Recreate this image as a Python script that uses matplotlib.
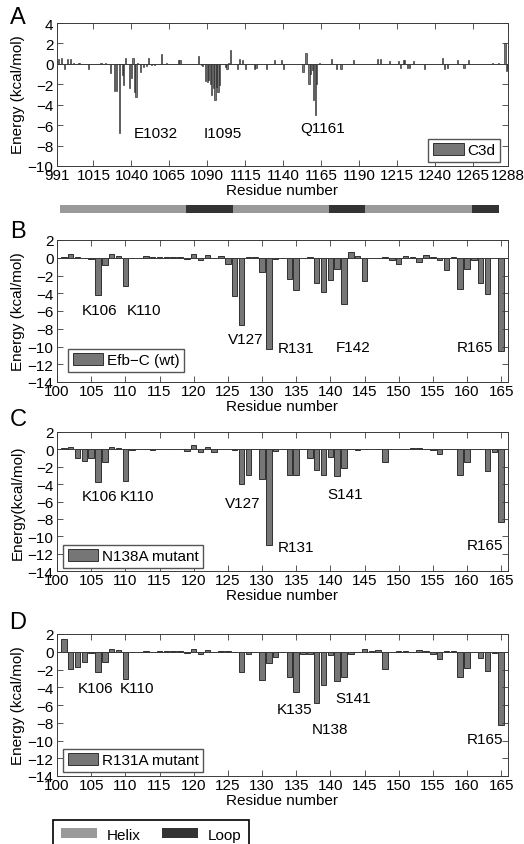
import numpy as np
import matplotlib
matplotlib.use('Agg')
import matplotlib.pyplot as plt
from matplotlib.patches import Patch

plt.rcParams['font.family'] = ['Liberation Sans', 'DejaVu Sans']
plt.rcParams['font.size'] = 11

# --- C3d per-residue decomposition (residues with a visible contribution) ---
c3d_res = [992, 994, 996, 998, 1000, 1002, 1005, 1006, 1012, 1020, 1023,
           1026, 1029, 1030, 1032, 1034, 1035, 1036, 1039, 1040, 1041, 1042,
           1043, 1044, 1046, 1048, 1050, 1051, 1053, 1055, 1060, 1063, 1071,
           1072, 1084, 1086, 1087, 1089, 1090, 1091, 1092, 1093, 1094, 1095,
           1096, 1097, 1098, 1102, 1103, 1104, 1105, 1110, 1111, 1113, 1115,
           1121, 1122, 1129, 1134, 1139, 1140, 1153, 1155, 1157, 1158, 1159,
           1160, 1161, 1162, 1164, 1172, 1175, 1178, 1186, 1202, 1204, 1210,
           1216, 1217, 1219, 1220, 1222, 1223, 1226, 1233, 1245, 1246, 1248,
           1255, 1259, 1262, 1278, 1282, 1286, 1287, 1288]
c3d_val = [0.5, 0.55, -0.5, 0.45, 0.45, 0.05, 0.05, 0.05, -0.5, 0.05, 0.05,
           -0.9, -2.7, -2.7, -6.8, -1.1, -2.1, 0.6, -2.4, -1.4, 0.6, -2.8,
           -3.2, 0.1, -0.8, -0.3, -0.2, 0.6, -0.1, -0.1, 1.0, 0.05, 0.4,
           0.4, 0.8, -0.1, -0.2, -1.7, -1.8, -1.6, -2.0, -3.0, -2.4, -3.5,
           -2.3, -2.8, -2.1, -0.3, -0.5, 0.1, 1.4, -0.5, 0.5, 0.4, -0.5,
           -0.5, -0.4, -0.5, 0.4, 0.4, -0.5, -0.8, 1.1, -2.0, -1.0, -0.6,
           -3.5, -5.0, -2.0, 0.1, 0.5, -0.5, -0.5, 0.4, 0.5, 0.5, 0.3,
           0.3, -0.4, 0.35, 0.35, -0.4, -0.4, 0.3, -0.5, 0.6, -0.5, -0.4,
           0.4, -0.4, 0.4, 0.1, 0.1, 2.0, -0.7, -0.5]
c3d_ticks = [991, 1015, 1040, 1065, 1090, 1115, 1140, 1165, 1190, 1215, 1240, 1265, 1288]

# secondary structure of C3d
helix_spans = [(993, 1076), (1107, 1170), (1194, 1264)]
loop_spans = [(1076, 1107), (1170, 1194), (1264, 1282)]

# --- Efb-C residues 101-165 ---
efb_res = list(range(101, 166))
efb_wt = [0.1, 0.4, 0.1, -0.05, -0.1, -4.15, -0.8, 0.4, 0.2, -3.2,
          -0.05, 0.0, 0.2, 0.05, 0.1, 0.1, 0.1, 0.1, -0.1, 0.4,
          -0.3, 0.3, -0.05, 0.15, -0.7, -4.3, -7.6, 0.1, 0.1, -1.6,
          -10.3, -0.1, 0.0, -2.4, -3.6, 0.0, 0.1, -2.8, -3.9, -2.5,
          -1.3, -5.2, 0.7, 0.2, -2.6, 0.0, 0.0, 0.1, -0.3, -0.7,
          0.15, 0.1, -0.5, 0.3, 0.1, -0.2, -1.4, 0.1, -3.5, -1.3,
          -0.2, -2.8, -4.1, 0.0, -10.5]
n138a = [0.2, 0.3, -1.0, -1.3, -1.0, -3.8, -1.5, 0.3, 0.2, -3.6,
         -0.05, 0.0, 0.05, -0.05, 0.0, 0.0, 0.0, 0.05, -0.2, 0.5,
         -0.3, 0.25, -0.3, 0.0, 0.0, -0.05, -4.0, -3.0, 0.0, -3.4,
         -11.0, -0.2, 0.0, -2.9, -2.9, 0.0, -1.0, -2.4, -2.9, -0.9,
         -3.1, -2.1, 0.1, -0.05, 0.1, 0.0, 0.05, -1.5, 0.0, 0.05,
         0.05, 0.2, 0.15, 0.0, -0.05, -0.5, 0.05, 0.05, -2.9, -1.5,
         0.0, 0.0, -2.5, -0.3, -8.4]
r131a = [1.4, -1.9, -1.7, -1.1, -0.1, -2.3, -1.1, 0.3, 0.15, -3.1,
         0.0, 0.0, 0.05, 0.0, 0.05, 0.05, 0.05, 0.05, -0.1, 0.3,
         -0.2, 0.2, -0.05, 0.05, 0.05, 0.0, -2.3, -0.3, 0.0, -3.2,
         -1.3, -0.6, 0.0, -2.8, -4.5, -0.2, -0.2, -5.8, -3.7, -0.4,
         -3.3, -2.8, -0.2, 0.0, 0.3, 0.1, 0.15, -1.9, 0.0, 0.1,
         0.1, 0.0, 0.2, 0.1, -0.3, -0.8, 0.1, 0.1, -2.8, -1.8,
         0.0, -0.7, -2.2, -0.1, -8.3]
efb_ticks = list(range(100, 166, 5))

# hot-spot labels: (text, x, y) in data units
labels_a = [('E1032', 1056, -6.75), ('I1095', 1100, -6.75), ('Q1161', 1166, -6.3)]
labels_b = [('K106', 106.3, -5.85), ('K110', 112.7, -5.85), ('V127', 127.6, -9.1),
            ('R131', 135.0, -10.2), ('F142', 143.3, -10.1), ('R165', 161.2, -10.1)]
labels_c = [('K106', 106.3, -5.4), ('K110', 111.7, -5.4), ('V127', 127.2, -6.2),
            ('R131', 135.0, -11.2), ('S141', 142.1, -5.1), ('R165', 162.7, -11.05)]
labels_d = [('K106', 105.6, -4.1), ('K110', 111.7, -4.1), ('K135', 134.8, -6.4),
            ('N138', 139.9, -8.7), ('S141', 143.3, -5.2), ('R165', 162.7, -9.8)]

W, H = 524, 845
BAR = '#767676'
EDGE = '#1a1a1a'
FRAME = '#3a3a3a'
HELIX = '#9a9a9a'
LOOP = '#333333'


def px_axes(fig, left, top, right, bottom):
    return fig.add_axes([left / W, 1 - bottom / H, (right - left) / W, (bottom - top) / H])


def style_axes(ax, ylim, yticks, xlim, xticks):
    ax.set_xlim(*xlim)
    ax.set_xticks(xticks)
    ax.set_ylim(*ylim)
    ax.set_yticks(yticks)
    ax.tick_params(direction='in', top=True, right=True, length=4, width=0.6,
                   color=FRAME, labelsize=11)
    ax.tick_params(axis='x', pad=1.5)
    ax.tick_params(axis='y', pad=2.5)
    for s in ax.spines.values():
        s.set_linewidth(0.7)
        s.set_color(FRAME)
    ax.axhline(0, color=FRAME, lw=0.7, zorder=3)
    ax.set_xlabel('Residue number', fontsize=11, labelpad=1)


def inner_legend(ax, fig, text, loc, anchor):
    h = Patch(facecolor=BAR, edgecolor=EDGE, linewidth=0.6, label=text)
    ax.legend(handles=[h], loc=loc, bbox_to_anchor=(anchor[0] / W, 1 - anchor[1] / H),
              bbox_transform=fig.transFigure, borderaxespad=0, fancybox=False,
              edgecolor='#555555', framealpha=1, fontsize=11, handlelength=2.0,
              handleheight=0.75, handletextpad=0.25, borderpad=0.3)


fig = plt.figure(figsize=(W / 100, H / 100), dpi=100)

# panel A: C3d
axA = px_axes(fig, 57, 24, 508, 167)
axA.bar(c3d_res, c3d_val, width=0.8, color=BAR, edgecolor=EDGE, linewidth=0.4)
style_axes(axA, (-10, 4), range(-10, 5, 2), (991, 1288), c3d_ticks)
for t, x, y in labels_a:
    axA.text(x, y, t, ha='center', va='center', fontsize=11)
inner_legend(axA, fig, 'C3d', 'lower right', (500, 163))

# helix / loop strip under panel A
axS = px_axes(fig, 57, 206, 508, 214)
axS.broken_barh([(a, b - a) for a, b in helix_spans], (0, 1), facecolors=HELIX)
axS.broken_barh([(a, b - a) for a, b in loop_spans], (0, 1), facecolors=LOOP)
axS.set_xlim(991, 1288)
axS.set_ylim(0, 1)
axS.axis('off')

# panels B-D: Efb-C wild type and mutants
panels = [
    (241, 383, efb_wt, labels_b, 'Efb\u2212C (wt)', (68, 373), 'Energy (kcal/mol)'),
    (433, 572, n138a, labels_c, 'N138A mutant', (63, 569), 'Energy(kcal/mol)'),
    (635, 777, r131a, labels_d, 'R131A mutant', (63, 773), 'Energy (kcal/mol)'),
]
for top, bottom, vals, labs, leg, anchor, ylab in panels:
    ax = px_axes(fig, 57, top, 508, bottom)
    ax.bar(efb_res, vals, width=0.8, color=BAR, edgecolor=EDGE, linewidth=0.6)
    style_axes(ax, (-14, 2), range(-14, 3, 2), (100, 166), efb_ticks)
    for t, x, y in labs:
        ax.text(x, y, t, ha='center', va='center', fontsize=11)
    inner_legend(ax, fig, leg, 'lower left', anchor)
    fig.text(18 / W, 1 - (top + bottom) / 2 / H, ylab, rotation=90,
             ha='center', va='center', fontsize=11)

fig.text(18 / W, 1 - 95 / H, 'Energy (kcal/mol)', rotation=90,
         ha='center', va='center', fontsize=11)

# panel letters
for letter, y in [('A', 18), ('B', 232), ('C', 420), ('D', 623)]:
    fig.text(18 / W, 1 - y / H, letter, ha='center', va='center', fontsize=17)

# secondary structure key at the bottom
ss_handles = [Patch(facecolor=HELIX, label='Helix'), Patch(facecolor=LOOP, label='Loop')]
fig.legend(handles=ss_handles, loc='upper left', bbox_to_anchor=(53 / W, 1 - 821 / H),
           ncol=2, fancybox=False, edgecolor='black', framealpha=1, fontsize=11,
           handlelength=2.4, handleheight=0.6, handletextpad=0.6, columnspacing=1.4,
           borderpad=0.5, borderaxespad=0).get_frame().set_linewidth(1.2)

fig.savefig('out.png', dpi=100)
